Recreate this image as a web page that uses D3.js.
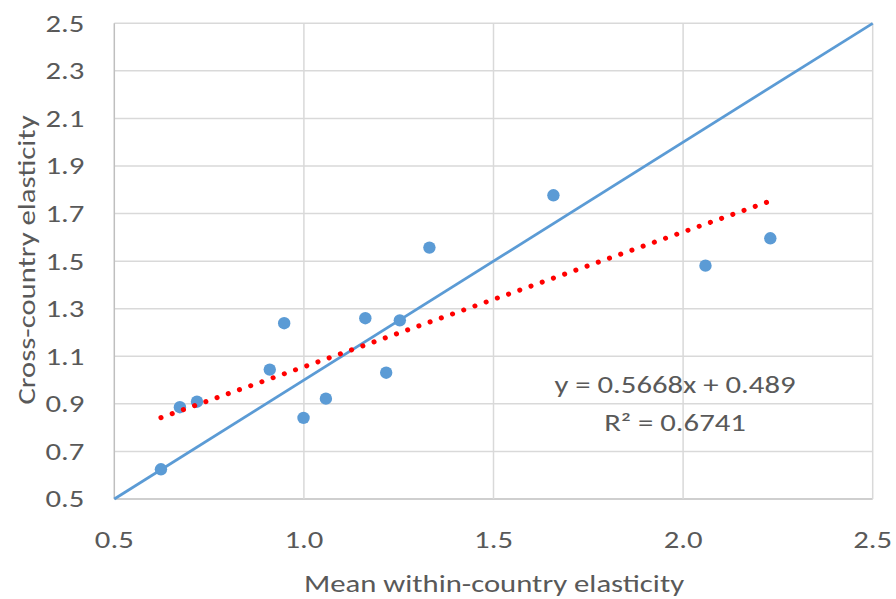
<!DOCTYPE html>
<html>
<head>
<meta charset="utf-8">
<script src="https://cdn.jsdelivr.net/npm/d3@7"></script>
<style>
  html, body { margin: 0; padding: 0; background: #fff; }
  svg { display: block; font-family: Carlito, Calibri, Lato, sans-serif; }
</style>
</head>
<body>
<div id="chart"></div>
<script>
// mean within-country elasticity (x) vs cross-country elasticity (y)
const withinCountry = [0.623, 0.673, 0.718, 0.910, 0.948, 0.999, 1.058, 1.162, 1.217, 1.253, 1.331, 1.658, 2.059, 2.230];
const crossCountry = [0.625, 0.886, 0.909, 1.044, 1.239, 0.841, 0.922, 1.260, 1.031, 1.251, 1.557, 1.777, 1.481, 1.596];
const xTicks = [0.5, 1.0, 1.5, 2.0, 2.5];
const yTicks = [0.5, 0.7, 0.9, 1.1, 1.3, 1.5, 1.7, 1.9, 2.1, 2.3, 2.5];
const trend = { slope: 0.5668, intercept: 0.489, r2: 0.6741 };
const diagonal = [0.5, 2.5];

const width = 896, height = 599;
const margin = { top: 23.3, right: 23.3, bottom: 100, left: 114.3 };
const innerW = width - margin.left - margin.right;
const innerH = height - margin.top - margin.bottom;
const stretch = 1.28; // the source text is wider than Lato

const svg = d3.select('#chart').append('svg').attr('width', width).attr('height', height);
const g = svg.append('g').attr('transform', `translate(${margin.left},${margin.top})`);

const x = d3.scaleLinear([0.5, 2.5], [0, innerW]);
const y = d3.scaleLinear([0.5, 2.5], [innerH, 0]);
const fmt = d3.format('.1f');

function label(parent, px, py, str, anchor, rot = 0) {
  return parent.append('text')
    .attr('transform', `translate(${px},${py}) rotate(${rot}) scale(${stretch},1)`)
    .attr('text-anchor', anchor).attr('dy', '0.35em')
    .attr('font-size', 24).attr('fill', '#595959').text(str);
}

// gridlines
g.append('g').selectAll('line').data(yTicks).join('line')
  .attr('x1', 0).attr('x2', innerW).attr('y1', (d) => y(d)).attr('y2', (d) => y(d))
  .attr('stroke', (d) => d === 0.5 ? '#bfbfbf' : '#d9d9d9').attr('stroke-width', 1.5);
g.append('g').selectAll('line').data(xTicks).join('line')
  .attr('y1', 0).attr('y2', innerH).attr('x1', (d) => x(d)).attr('x2', (d) => x(d))
  .attr('stroke', (d) => d === 0.5 ? '#bfbfbf' : '#d9d9d9').attr('stroke-width', 1.5);

// tick labels
yTicks.forEach((t) => label(g, -30, y(t), fmt(t), 'end'));
xTicks.forEach((t) => label(g, x(t), innerH + 41, fmt(t), 'middle'));

// y = x reference line
g.append('line')
  .attr('x1', x(diagonal[0])).attr('y1', y(diagonal[0])).attr('x2', x(diagonal[1])).attr('y2', y(diagonal[1]))
  .attr('stroke', '#5b9bd5').attr('stroke-width', 2.75);

// points
g.append('g').selectAll('circle').data(withinCountry.map((v, i) => [v, crossCountry[i]])).join('circle')
  .attr('cx', (d) => x(d[0])).attr('cy', (d) => y(d[1])).attr('r', 6.2).attr('fill', '#5b9bd5');

// linear trend line
const xMin = d3.min(withinCountry), xMax = d3.max(withinCountry);
g.append('line')
  .attr('x1', x(xMin)).attr('y1', y(trend.slope * xMin + trend.intercept))
  .attr('x2', x(xMax)).attr('y2', y(trend.slope * xMax + trend.intercept))
  .attr('stroke', '#ff0000').attr('stroke-width', 5).attr('stroke-linecap', 'round')
  .attr('stroke-dasharray', '0.1 11.8');

// equation label
label(svg, 675, 385, `y = ${trend.slope}x + ${trend.intercept}`, 'middle');
label(svg, 675, 423, `R² = ${trend.r2}`, 'middle');

// axis titles
label(svg, 494, 584, 'Mean within-country elasticity', 'middle');
label(svg, 27, 260, 'Cross-country elasticity', 'middle', -90);
</script>
</body>
</html>
